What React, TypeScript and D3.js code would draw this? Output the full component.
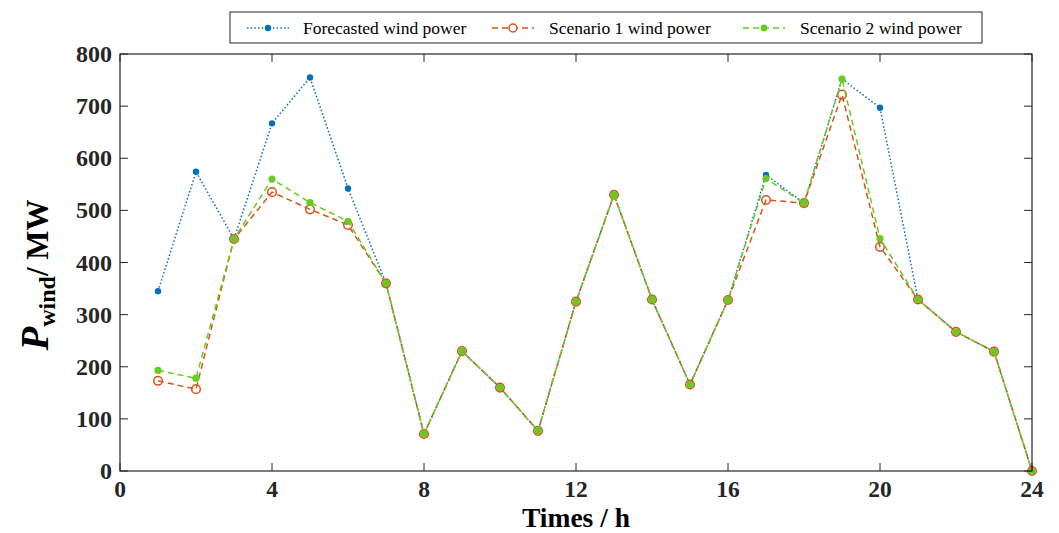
import React from "react";
import * as d3 from "d3";

const hours = [1,2,3,4,5,6,7,8,9,10,11,12,13,14,15,16,17,18,19,20,21,22,23,24];
const forecast = [345,574,445,667,755,542,360,71,230,160,77,325,530,329,166,328,568,514,752,697,329,267,229,0];
const scenario1 = [173,157,445,535,502,472,360,71,230,160,77,325,530,329,166,328,520,514,722,430,329,267,229,0];
const scenario2 = [193,178,445,560,515,479,360,71,230,160,77,325,530,329,166,328,561,514,752,446,329,267,229,0];
const xTicks = [0,4,8,12,16,20,24];
const yTicks = [0,100,200,300,400,500,600,700,800];
const legendLabels = ["Forecasted wind power","Scenario 1 wind power","Scenario 2 wind power"];

const W = 1059, H = 533;
const L = 120, R = 1032, T = 54, B = 471;
const FONT = "'Liberation Serif', 'Times New Roman', serif";
const BLUE = "#0072BD", ORANGE = "#D95319", GREEN = "#66CC1F";

export default function App() {
  const x = d3.scaleLinear().domain([0, 24]).range([L, R]);
  const y = d3.scaleLinear().domain([0, 800]).range([B, T]);
  const line = d3.line<number>().x((_, i) => x(hours[i])).y(d => y(d));
  const tk = 8;
  return (
    <svg width={W} height={H} style={{ position: "absolute", left: 0, top: 0 }}>
      <rect x={0} y={0} width={W} height={H} fill="#fff" />
      {/* series */}
      <path d={line(forecast)!} fill="none" stroke={BLUE} strokeWidth={1.5} strokeDasharray="1.5 2.2" />
      {forecast.map((v, i) => <circle key={"b"+i} cx={x(hours[i])} cy={y(v)} r={3.2} fill={BLUE} />)}
      <path d={line(scenario1)!} fill="none" stroke={ORANGE} strokeWidth={1.5} strokeDasharray="6 4" />
      {scenario1.map((v, i) => <circle key={"o"+i} cx={x(hours[i])} cy={y(v)} r={4.3} fill="none" stroke={ORANGE} strokeWidth={1.5} />)}
      <path d={line(scenario2)!} fill="none" stroke={GREEN} strokeWidth={1.5} strokeDasharray="6 4" />
      {scenario2.map((v, i) => <circle key={"g"+i} cx={x(hours[i])} cy={y(v)} r={3.6} fill={GREEN} />)}
      {/* axes box */}
      <rect x={L} y={T} width={R - L} height={B - T} fill="none" stroke="#262626" strokeWidth={1.2} />
      {xTicks.map(t => (
        <g key={"xt"+t}>
          <line x1={x(t)} x2={x(t)} y1={B} y2={B - tk} stroke="#262626" strokeWidth={1} />
          <line x1={x(t)} x2={x(t)} y1={T} y2={T + tk} stroke="#262626" strokeWidth={1} />
          <text x={x(t)} y={497} textAnchor="middle" fontFamily={FONT} fontWeight="bold" fontSize={23.5} fill="#262626">{t}</text>
        </g>
      ))}
      {yTicks.map(t => (
        <g key={"yt"+t}>
          <line x1={L} x2={L + tk} y1={y(t)} y2={y(t)} stroke="#262626" strokeWidth={1} />
          <line x1={R} x2={R - tk} y1={y(t)} y2={y(t)} stroke="#262626" strokeWidth={1} />
          <text x={112} y={y(t) + 8} textAnchor="end" fontFamily={FONT} fontWeight="bold" fontSize={24} fill="#262626">{t}</text>
        </g>
      ))}
      <text x={(L + R) / 2} y={527} textAnchor="middle" fontFamily={FONT} fontWeight="bold" fontSize={27.5} fill="#000">Times / h</text>
      <text transform="translate(48,275) rotate(-90)" textAnchor="middle" fontFamily={FONT} fontWeight="bold" fill="#000">
        <tspan fontStyle="italic" fontSize={39}>P</tspan>
        <tspan fontSize={24} dy={7}>wind</tspan>
        <tspan fontSize={31} dy={-7}>/ MW</tspan>
      </text>
      {/* legend */}
      <rect x={230} y={12} width={752} height={31} fill="#fff" stroke="#262626" strokeWidth={1} />
      {[
        { c: BLUE, dash: "1.5 2.2", lx: 247, mx: 268, tx: 303, m: "b" },
        { c: ORANGE, dash: "6 4", lx: 492, mx: 513, tx: 549, m: "o" },
        { c: GREEN, dash: "6 4", lx: 743, mx: 764, tx: 800, m: "g" },
      ].map((e, i) => (
        <g key={"lg"+i}>
          <line x1={e.lx} x2={e.lx + 42} y1={28} y2={28} stroke={e.c} strokeWidth={1.5} strokeDasharray={e.dash} />
          {e.m === "b" && <circle cx={e.mx} cy={28} r={3.2} fill={BLUE} />}
          {e.m === "o" && <circle cx={e.mx} cy={28} r={4} fill="#fff" stroke={ORANGE} strokeWidth={1.5} />}
          {e.m === "g" && <circle cx={e.mx} cy={28} r={3.4} fill={GREEN} />}
          <text x={e.tx} y={33.5} fontFamily={FONT} fontSize={17.5} fill="#000">{legendLabels[i]}</text>
        </g>
      ))}
    </svg>
  );
}
